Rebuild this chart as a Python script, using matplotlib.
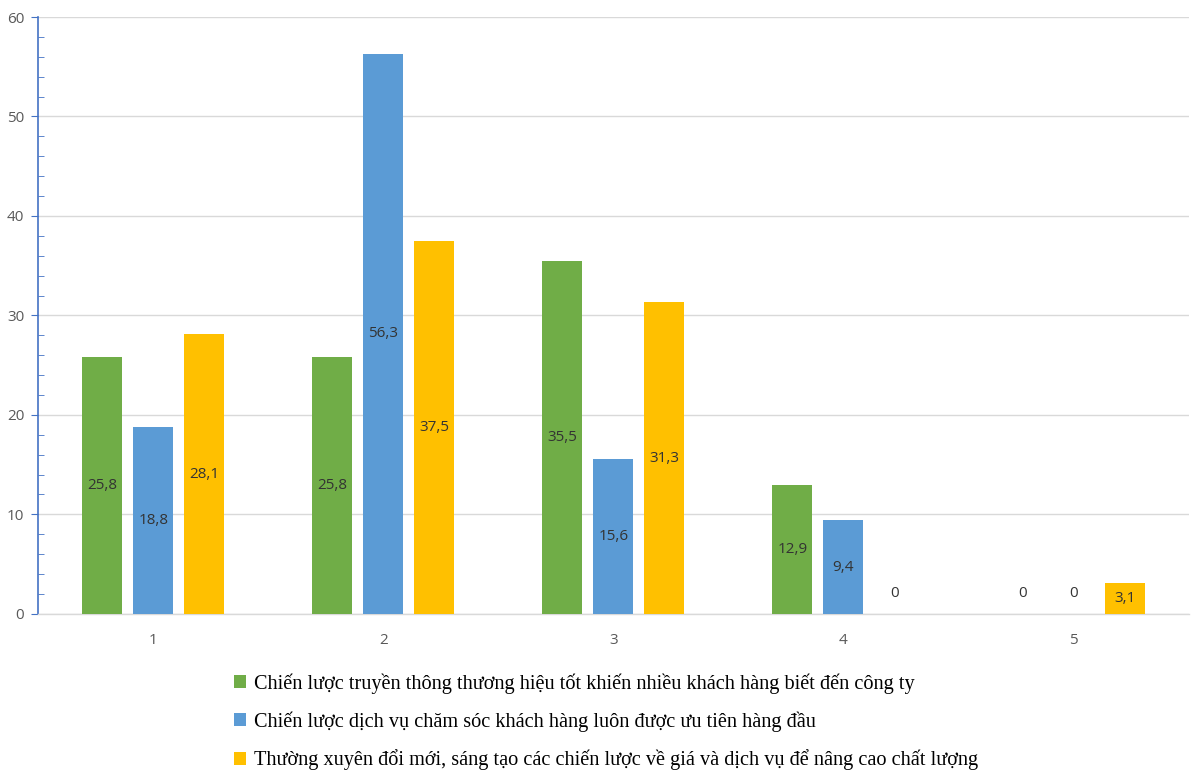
import numpy as np
import matplotlib.pyplot as plt
from matplotlib.patches import Patch
from matplotlib.ticker import MultipleLocator

categories = ['1', '2', '3', '4', '5']
brand = [25.8, 25.8, 35.5, 12.9, 0]
service = [18.8, 56.3, 15.6, 9.4, 0]
innovate = [28.1, 37.5, 31.3, 0, 3.1]

series_names = [
    'Chiến lược truyền thông thương hiệu tốt khiến nhiều khách hàng biết đến công ty',
    'Chiến lược dịch vụ chăm sóc khách hàng luôn được ưu tiên hàng đầu',
    'Thường xuyên đổi mới, sáng tạo các chiến lược về giá và dịch vụ để nâng cao chất lượng',
]
colors = ['#70AD47', '#5B9BD5', '#FFC000']

fig = plt.figure(figsize=(11.91, 7.74), dpi=100)
ax = fig.add_axes([0.032, 0.207, 0.966, 0.771])

x = np.arange(1, len(categories) + 1)
width = 0.174
step = 0.222

for i, (vals, col) in enumerate(zip([brand, service, innovate], colors)):
    pos = x + (i - 1) * step
    bars = ax.bar(pos, vals, width, color=col, zorder=3)
    for b, v in zip(bars, vals):
        label = f'{v:g}'.replace('.', ',')
        y = 2 if v == 0 else v / 2
        ax.text(b.get_x() + b.get_width() / 2, y, label, ha='center', va='center',
                fontsize=11, color='#333333', family='Open Sans', zorder=4)

ax.set_xlim(0.5, 5.5)
ax.set_ylim(0, 60)
ax.set_xticks(x)
ax.set_xticklabels(categories)
ax.yaxis.set_major_locator(MultipleLocator(10))
ax.yaxis.set_minor_locator(MultipleLocator(2))
ax.grid(axis='y', color='#D9D9D9', linewidth=1, zorder=0)

for s in ['top', 'right']:
    ax.spines[s].set_visible(False)
ax.spines['left'].set_color('#4472C4')
ax.spines['left'].set_linewidth(1.2)
ax.spines['bottom'].set_color('#D9D9D9')
ax.spines['bottom'].set_linewidth(1)

ax.tick_params(axis='y', which='major', direction='out', length=5, color='#4472C4',
               labelsize=11, labelcolor='#595959', pad=5)
ax.tick_params(axis='y', which='minor', direction='in', length=4, color='#4472C4')
ax.tick_params(axis='x', length=0, labelsize=11, labelcolor='#595959', pad=14)
for lbl in ax.get_xticklabels() + ax.get_yticklabels():
    lbl.set_family('Open Sans')

handles = [Patch(facecolor=c) for c in colors]
fig.legend(handles, series_names, loc='upper left', bbox_to_anchor=(0.188, 0.143),
           frameon=False, prop={'family': 'Liberation Serif', 'size': 14.6},
           handlelength=0.6, handleheight=0.6, handletextpad=0.4,
           labelspacing=0.86, borderpad=0)

fig.savefig('out.png', dpi=100)
